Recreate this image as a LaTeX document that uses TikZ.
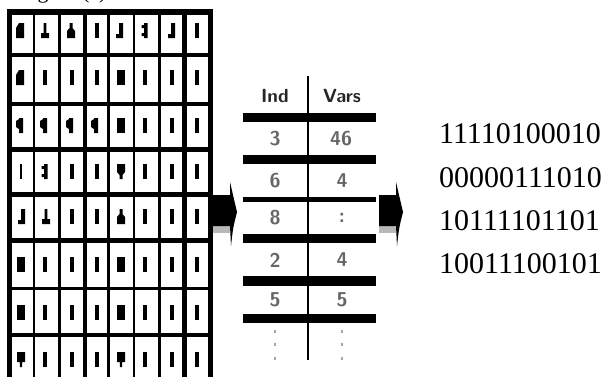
\documentclass[tikz,border=0pt]{standalone}
\usepackage{fontspec}
\setmainfont{Liberation Serif}
\begin{document}
\begin{tikzpicture}[x=1pt,y=-1pt,
  bits/.style={font=\fontsize{30}{30}\selectfont, anchor=base west, inner sep=0pt},
  cellt/.style={font=\sffamily\bfseries\fontsize{20}{20}\selectfont, text=black!60, inner sep=0pt},
  headt/.style={font=\sffamily\bfseries\fontsize{19}{19}\selectfont, text=black!85, inner sep=0pt},
  tbar/.style={fill=black},
  shadow/.style={fill=black!28}]
\useasboundingbox (0,0) rectangle (615,376);
% caption, cut off by the top edge
\node[font=\fontsize{22}{22}\selectfont, anchor=base west, inner sep=0pt] (cap) at (19,-2) {Figure (c)};
% ---------- grid ----------
\fill[black] (7,9) rectangle (213,380);
\foreach \xa/\xb in {12/33,35/58,61/83,87/107,110/133,135/158,161/182,187/208}
  \foreach \ya/\yb in {15/53,57/102,106/147,152/192,197/238,243/287,290/333,337/382}
    \fill[white] (\xa,\ya) rectangle (\xb,\yb);
% glyph shapes (local: x -4..4, y 0..15)
\def\gB#1#2{\fill[shift={(#1,#2)}] (-2,0) rectangle (2,15);}
\def\gW#1#2{\fill[shift={(#1,#2)}] (-4,0) rectangle (4,15);}
\def\gThin#1#2{\fill[shift={(#1,#2)}] (-1.2,0) rectangle (1.2,15);}
\def\gN#1#2{\fill[shift={(#1,#2)}] (-4,5) -- (-1,0) -- (4,0) -- (4,15) -- (-4,15) -- cycle;}
\def\gInvT#1#2{\fill[shift={(#1,#2)}] (-1.3,0) rectangle (1.3,10) (-4,10) rectangle (4,15);}
\def\gUp#1#2{\fill[shift={(#1,#2)}] (-1.5,0) -- (1.5,0) -- (1.5,5) -- (4,8) -- (4,15) -- (-4,15) -- (-4,8) -- (-1.5,5) -- cycle;}
\def\gDown#1#2{\fill[shift={(#1,#2)}] (-4,0) -- (4,0) -- (4,8) -- (1.5,11) -- (1.5,15) -- (-1.5,15) -- (-1.5,11) -- (-4,8) -- cycle;}
\def\gT#1#2{\fill[shift={(#1,#2)}] (-4,0) rectangle (4,10) (-1.2,10) rectangle (1.2,15);}
\def\gJ#1#2{\fill[shift={(#1,#2)}] (0,0) rectangle (4,15) (-3,11) rectangle (0,15);}
\def\gBr#1#2{\fill[shift={(#1,#2)}] (0,0) rectangle (3.5,15) (-2.5,2) rectangle (0,5) (-2.5,10) rectangle (0,13);}
\def\gL#1#2{\fill[shift={(#1,#2)}] (-1,0) rectangle (3,15) (-4,3) -- (-1,1) -- (-1,11) -- (-4,9) -- cycle;}
% row 1
\gN{20}{23}\gInvT{45}{23}\gUp{71}{23}\gB{97}{23}\gJ{119}{23}\gBr{144}{23}\gJ{171}{23}\gB{197}{23}
% row 2
\gN{20}{70}\gB{45}{70}\gB{72}{70}\gB{97}{70}\gW{121}{70}\gB{145}{70}\gB{172}{70}\gB{197}{70}
% row 3
\gL{20}{118}\gL{44}{118}\gL{70}{118}\gL{95}{118}\gW{121}{118}\gB{145}{118}\gB{172}{118}\gB{197}{118}
% row 4
\gThin{21}{164}\gBr{44}{164}\gB{72}{164}\gB{97}{164}\gDown{121}{164}\gB{145}{164}\gB{172}{164}\gB{197}{164}
% row 5
\gJ{21}{209}\gInvT{46}{209}\gB{72}{209}\gB{97}{209}\gUp{121}{209}\gB{145}{209}\gB{172}{209}\gB{197}{209}
% row 6
\gW{21}{257}\gB{45}{257}\gB{72}{257}\gB{97}{257}\gW{121}{257}\gB{145}{257}\gB{172}{257}\gB{197}{257}
% row 7
\gW{21}{305}\gB{45}{305}\gB{72}{305}\gB{97}{305}\gW{121}{305}\gB{145}{305}\gB{172}{305}\gB{197}{305}
% row 8
\gT{21}{352}\gB{45}{352}\gB{72}{352}\gB{97}{352}\gT{121}{352}\gB{145}{352}\gB{172}{352}\gB{197}{352}
% ---------- arrows ----------
\foreach \s in {0,166}{
  \begin{scope}[shift={(\s,0)}]
    \fill[shadow] (213,226) rectangle (230,233);
    \fill (213,195) -- (230,195) -- (230,182) .. controls (233,195) .. (237,212)
          .. controls (233,228) .. (231,246) -- (230,226) -- (213,226) -- cycle;
  \end{scope}}
% ---------- table ----------
\draw[line width=2pt] (308,76) -- (308,360);
\fill[tbar] (243,113) rectangle (376,122);
\fill[tbar] (243,155) rectangle (376,164);
\fill[tbar] (243,197) rectangle (376,202);
\fill[tbar] (243,234) rectangle (376,243);
\fill[tbar] (243,276) rectangle (376,286);
\fill[tbar] (243,314) rectangle (376,323);
\node[headt] (h1) at (275,96) {Ind};
\node[headt] (h2) at (342,96) {Vars};
\node[cellt] (a1) at (275,139) {3};
\node[cellt] (b1) at (341,139) {46};
\node[cellt] (a2) at (275,181) {6};
\node[cellt] (b2) at (342,181) {4};
\node[cellt] (a3) at (275,218) {8};
\node[cellt] (b3) at (342,218) {:};
\node[cellt] (a4) at (275,260) {2};
\node[cellt] (b4) at (342,260) {4};
\node[cellt] (a5) at (275,300) {5};
\node[cellt] (b5) at (342,300) {5};
\foreach \y in {330,343,357}{
  \fill[black!35] (274,\y) rectangle (276,\y+3);
  \fill[black!35] (341,\y) rectangle (343,\y+3);}
% ---------- bit strings ----------
\node[bits] (r1) at (439,143) {11110100010};
\node[bits] (r2) at (439,187) {00000111010};
\node[bits] (r3) at (439,230) {10111101101};
\node[bits] (r4) at (439,273) {10011100101};
\end{tikzpicture}
\end{document}
